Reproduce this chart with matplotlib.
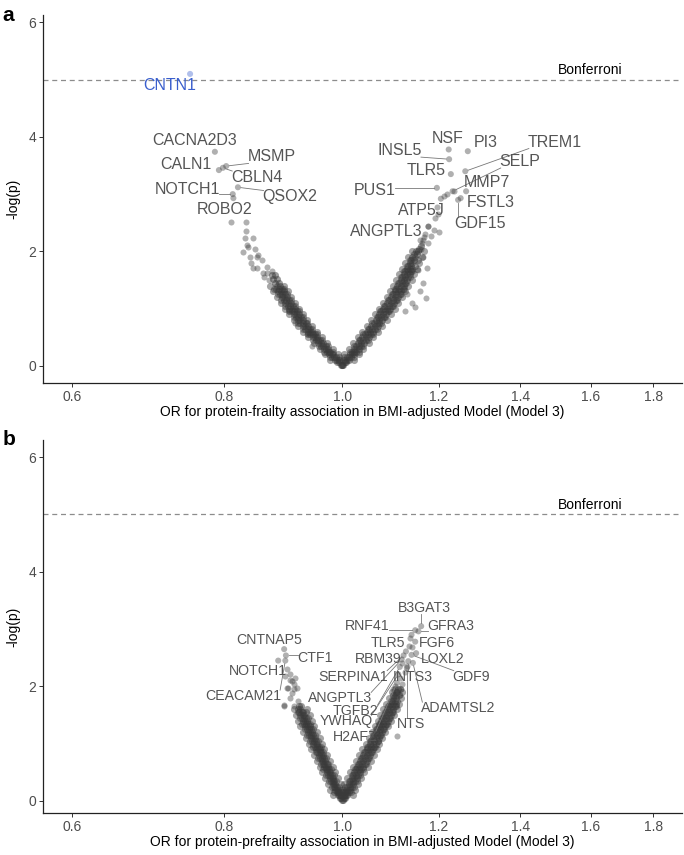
import numpy as np
import matplotlib
matplotlib.use("Agg")
import matplotlib.pyplot as plt

plt.rcParams["font.family"] = ["Liberation Sans", "DejaVu Sans"]

# ---------------- panel a : frailty ----------------
a_band_x = [0.998, 1.0, 0.994, 0.991, 0.990, 0.986, 0.993, 0.985, 0.981, 0.988,
            0.980, 0.976, 0.983, 0.975, 0.971, 0.978, 0.970, 0.966, 0.974, 0.965,
            0.961, 0.969, 0.960, 0.956, 0.964, 0.955, 0.951, 0.959, 0.950, 0.946,
            0.954, 0.946, 0.941, 0.950, 0.941, 0.937, 0.945, 0.937, 0.932, 0.941,
            0.932, 0.928, 0.937, 0.928, 0.924, 0.933, 0.924, 0.920, 0.929, 0.920,
            0.916, 0.925, 0.917, 0.912, 0.921, 0.913, 0.909, 0.918, 0.909, 0.905,
            0.914, 0.906, 0.902, 0.911, 0.902, 0.898, 0.908, 0.899, 0.895, 0.905,
            0.896, 0.892, 0.901, 0.893, 0.889, 0.898, 0.890, 0.886, 0.895, 0.887,
            0.883, 0.892, 0.884, 0.889, 0.881, 0.887, 0.878, 0.884, 0.875, 0.881,
            # right arm
            1.0, 1.002, 1.005, 1.008, 1.009, 1.006, 1.012, 1.013, 1.010, 1.017,
            1.018, 1.014, 1.022, 1.023, 1.018, 1.027, 1.027, 1.022, 1.032, 1.032,
            1.027, 1.037, 1.036, 1.031, 1.042, 1.041, 1.035, 1.046, 1.045, 1.039,
            1.051, 1.050, 1.044, 1.055, 1.054, 1.048, 1.060, 1.058, 1.052, 1.064,
            1.063, 1.056, 1.069, 1.067, 1.061, 1.073, 1.072, 1.065, 1.078, 1.076,
            1.069, 1.082, 1.080, 1.073, 1.087, 1.084, 1.077, 1.091, 1.088, 1.081,
            1.095, 1.092, 1.085, 1.099, 1.096, 1.089, 1.103, 1.100, 1.093, 1.107,
            1.104, 1.097, 1.111, 1.108, 1.101, 1.115, 1.111, 1.104, 1.118, 1.114,
            1.107, 1.121, 1.117, 1.110, 1.124, 1.120, 1.113, 1.127, 1.124, 1.117,
            1.130, 1.127, 1.120, 1.133, 1.130, 1.124, 1.136, 1.133, 1.127, 1.139,
            1.136, 1.130, 1.142, 1.139, 1.133, 1.142, 1.136, 1.145, 1.139, 1.148,
            1.142, 1.151, 1.146, 1.154, 1.150, 1.157, 1.160]
a_band_y = [0.02, 0.02, 0.06, 0.06, 0.10, 0.10, 0.10, 0.15, 0.15, 0.15,
            0.20, 0.20, 0.20, 0.25, 0.25, 0.25, 0.30, 0.30, 0.30, 0.35,
            0.35, 0.35, 0.40, 0.40, 0.40, 0.45, 0.45, 0.45, 0.50, 0.50,
            0.50, 0.55, 0.55, 0.55, 0.60, 0.60, 0.60, 0.65, 0.65, 0.65,
            0.70, 0.70, 0.70, 0.75, 0.75, 0.75, 0.80, 0.80, 0.80, 0.85,
            0.85, 0.85, 0.90, 0.90, 0.90, 0.95, 0.95, 0.95, 1.00, 1.00,
            1.00, 1.05, 1.05, 1.05, 1.10, 1.10, 1.10, 1.15, 1.15, 1.15,
            1.20, 1.20, 1.20, 1.25, 1.25, 1.25, 1.30, 1.30, 1.30, 1.35,
            1.35, 1.35, 1.40, 1.40, 1.45, 1.45, 1.52, 1.52, 1.58, 1.58,
            # right arm
            0.02, 0.02, 0.06, 0.06, 0.10, 0.10, 0.10, 0.15, 0.15, 0.15,
            0.20, 0.20, 0.20, 0.25, 0.25, 0.25, 0.30, 0.30, 0.30, 0.35,
            0.35, 0.35, 0.40, 0.40, 0.40, 0.45, 0.45, 0.45, 0.50, 0.50,
            0.50, 0.55, 0.55, 0.55, 0.60, 0.60, 0.60, 0.65, 0.65, 0.65,
            0.70, 0.70, 0.70, 0.75, 0.75, 0.75, 0.80, 0.80, 0.80, 0.85,
            0.85, 0.85, 0.90, 0.90, 0.90, 0.95, 0.95, 0.95, 1.00, 1.00,
            1.00, 1.05, 1.05, 1.05, 1.10, 1.10, 1.10, 1.15, 1.15, 1.15,
            1.20, 1.20, 1.20, 1.25, 1.25, 1.25, 1.30, 1.30, 1.30, 1.35,
            1.35, 1.35, 1.40, 1.40, 1.40, 1.45, 1.45, 1.45, 1.50, 1.50,
            1.50, 1.55, 1.55, 1.55, 1.60, 1.60, 1.60, 1.65, 1.65, 1.65,
            1.70, 1.70, 1.70, 1.75, 1.75, 1.80, 1.80, 1.85, 1.85, 1.90,
            1.90, 1.95, 1.95, 2.00, 2.00, 2.05, 2.10]
# outer edges of the dense band (low / high OR at each level)
a_left_edge_y = [0.10, 0.15, 0.20, 0.25, 0.30, 0.35, 0.40, 0.45, 0.50, 0.55,
                 0.60, 0.65, 0.70, 0.75, 0.80, 0.85, 0.90, 0.95, 1.00, 1.05,
                 1.10, 1.15, 1.20, 1.25, 1.30, 1.35, 1.40]
a_left_edge_lo = [0.978, 0.977, 0.968, 0.967, 0.958, 0.957, 0.948, 0.947, 0.938, 0.938,
                  0.929, 0.929, 0.920, 0.920, 0.912, 0.912, 0.905, 0.905, 0.897, 0.898,
                  0.890, 0.891, 0.884, 0.885, 0.878, 0.879, 0.872]
a_left_edge_hi = [1.002, 0.993, 0.992, 0.983, 0.982, 0.973, 0.972, 0.963, 0.962, 0.954,
                  0.953, 0.945, 0.944, 0.936, 0.936, 0.928, 0.929, 0.921, 0.921, 0.914,
                  0.914, 0.907, 0.908, 0.901, 0.902, 0.895, 0.896]
a_right_edge_y = [0.10, 0.15, 0.20, 0.25, 0.30, 0.35, 0.40, 0.45, 0.50, 0.55,
                  0.60, 0.65, 0.70, 0.75, 0.80, 0.85, 0.90, 0.95, 1.00, 1.05,
                  1.10, 1.15, 1.20, 1.25, 1.30, 1.35, 1.40, 1.45, 1.50, 1.55,
                  1.60, 1.65, 1.70, 1.75, 1.80, 1.85, 1.90, 2.00]
a_right_edge_lo = [0.996, 1.004, 1.004, 1.014, 1.013, 1.023, 1.021, 1.032, 1.030, 1.041,
                   1.039, 1.049, 1.047, 1.058, 1.056, 1.067, 1.064, 1.075, 1.072, 1.083,
                   1.080, 1.091, 1.088, 1.099, 1.095, 1.105, 1.101, 1.111, 1.108, 1.118,
                   1.114, 1.124, 1.120, 1.130, 1.127, 1.136, 1.133, 1.140]
a_right_edge_hi = [1.023, 1.022, 1.032, 1.032, 1.041, 1.041, 1.051, 1.050, 1.060, 1.059,
                   1.069, 1.067, 1.079, 1.076, 1.088, 1.085, 1.096, 1.093, 1.104, 1.101,
                   1.112, 1.109, 1.120, 1.117, 1.127, 1.123, 1.133, 1.129, 1.140, 1.136,
                   1.146, 1.142, 1.152, 1.148, 1.157, 1.154, 1.163, 1.168]
a_sparse_x = [0.867, 0.875, 0.861, 0.851, 0.859, 0.842, 0.851, 0.840, 0.848, 0.829,
              0.835, 0.845, 0.832, 0.833, 0.833, 0.810, 0.853, 0.845, 0.867, 0.837,
              0.862, 0.870, 0.935, 0.915, 0.905, 0.945,
              1.166, 1.171, 1.158, 1.155, 1.173, 1.164, 1.148, 1.165, 1.177, 1.183,
              1.190, 1.200, 1.192, 1.199, 1.196, 1.212, 1.220, 1.236, 1.170, 1.175,
              1.160, 1.130, 1.140, 1.125, 1.163, 1.158, 1.168]
a_sparse_y = [1.73, 1.65, 1.62, 1.71, 1.85, 1.79, 1.91, 1.91, 2.05, 1.99,
              2.11, 2.23, 2.23, 2.36, 2.51, 2.51, 1.94, 1.71, 1.62, 2.08,
              1.55, 1.50, 0.55, 0.75, 0.95, 0.35,
              1.44, 1.18, 1.30, 1.68, 1.71, 1.91, 1.03, 2.20, 2.14, 2.26,
              2.37, 2.34, 2.58, 2.66, 2.78, 2.97, 3.01, 3.05, 2.30, 2.45,
              2.05, 1.25, 1.10, 0.95, 2.15, 2.20, 2.25]
a_genes = ["CNTN1", "CACNA2D3", "MSMP", "CALN1", "CBLN4", "QSOX2", "NOTCH1", "ROBO2",
           "NSF", "PI3", "INSL5", "TREM1", "TLR5", "SELP", "MMP7", "PUS1", "FSTL3",
           "GDF15", "ATP5J", "ANGPTL3"]
a_gene_x = [0.750, 0.786, 0.803, 0.792, 0.798, 0.821, 0.813, 0.814,
            1.223, 1.268, 1.224, 1.262, 1.228, 1.232, 1.264, 1.196, 1.251,
            1.245, 1.205, 1.177]
a_gene_y = [5.10, 3.74, 3.49, 3.42, 3.46, 3.12, 3.00, 2.93,
            3.78, 3.75, 3.61, 3.40, 3.35, 3.05, 3.05, 3.11, 2.93,
            2.90, 2.92, 2.43]
a_text_x = [0.722, 0.756, 0.875, 0.744, 0.851, 0.906, 0.746, 0.800,
            1.221, 1.312, 1.115, 1.495, 1.172, 1.400, 1.314, 1.064, 1.324,
            1.298, 1.162, 1.086]
a_text_y = [4.89, 3.93, 3.65, 3.52, 3.29, 2.95, 3.08, 2.74,
            3.97, 3.91, 3.76, 3.91, 3.41, 3.57, 3.21, 3.07, 2.85,
            2.49, 2.71, 2.34]

# ---------------- panel b : prefrailty ----------------
b_band_x = [0.999, 0.997, 0.995, 0.995, 0.993, 0.997, 0.992, 0.990, 0.994, 0.990,
            0.987, 0.992, 0.987, 0.985, 0.990, 0.985, 0.982, 0.987, 0.982, 0.979,
            0.985, 0.980, 0.977, 0.983, 0.977, 0.974, 0.980, 0.975, 0.972, 0.978,
            0.972, 0.969, 0.976, 0.970, 0.967, 0.973, 0.967, 0.964, 0.971, 0.965,
            0.962, 0.968, 0.963, 0.959, 0.966, 0.960, 0.957, 0.964, 0.958, 0.954,
            0.961, 0.955, 0.952, 0.959, 0.953, 0.949, 0.957, 0.951, 0.947, 0.954,
            0.948, 0.944, 0.952, 0.946, 0.942, 0.950, 0.943, 0.939, 0.947, 0.941,
            0.937, 0.945, 0.939, 0.935, 0.943, 0.936, 0.932, 0.940, 0.934, 0.930,
            0.938, 0.932, 0.928, 0.936, 0.930, 0.926, 0.933, 0.928, 0.924, 0.931,
            0.926, 0.922, 0.929, 0.924, 0.920, 0.921, 0.925,
            # right arm
            1.001, 1.003, 1.005, 1.006, 1.003, 1.009, 1.009, 1.005, 1.012, 1.011,
            1.007, 1.015, 1.014, 1.010, 1.018, 1.017, 1.012, 1.021, 1.020, 1.015,
            1.025, 1.023, 1.018, 1.028, 1.026, 1.020, 1.031, 1.029, 1.023, 1.034,
            1.032, 1.026, 1.037, 1.035, 1.029, 1.041, 1.038, 1.032, 1.044, 1.041,
            1.035, 1.047, 1.044, 1.038, 1.050, 1.047, 1.041, 1.053, 1.050, 1.044,
            1.056, 1.053, 1.047, 1.059, 1.056, 1.050, 1.062, 1.059, 1.053, 1.066,
            1.062, 1.056, 1.069, 1.065, 1.059, 1.072, 1.068, 1.062, 1.075, 1.071,
            1.065, 1.078, 1.074, 1.068, 1.081, 1.077, 1.071, 1.084, 1.080, 1.074,
            1.087, 1.083, 1.077, 1.090, 1.086, 1.080, 1.093, 1.089, 1.083, 1.096,
            1.092, 1.086, 1.099, 1.095, 1.089, 1.101, 1.098, 1.092, 1.104, 1.101,
            1.095, 1.106, 1.104, 1.098, 1.106, 1.101, 1.108, 1.103, 1.110, 1.106,
            1.112]
b_band_y = [0.02, 0.06, 0.06, 0.10, 0.10, 0.10, 0.15, 0.15, 0.15, 0.20,
            0.20, 0.20, 0.25, 0.25, 0.25, 0.30, 0.30, 0.30, 0.35, 0.35,
            0.35, 0.40, 0.40, 0.40, 0.45, 0.45, 0.45, 0.50, 0.50, 0.50,
            0.55, 0.55, 0.55, 0.60, 0.60, 0.60, 0.65, 0.65, 0.65, 0.70,
            0.70, 0.70, 0.75, 0.75, 0.75, 0.80, 0.80, 0.80, 0.85, 0.85,
            0.85, 0.90, 0.90, 0.90, 0.95, 0.95, 0.95, 1.00, 1.00, 1.00,
            1.05, 1.05, 1.05, 1.10, 1.10, 1.10, 1.15, 1.15, 1.15, 1.20,
            1.20, 1.20, 1.25, 1.25, 1.25, 1.30, 1.30, 1.30, 1.35, 1.35,
            1.35, 1.40, 1.40, 1.40, 1.45, 1.45, 1.45, 1.50, 1.50, 1.50,
            1.55, 1.55, 1.55, 1.60, 1.60, 1.66, 1.66,
            # right arm
            0.02, 0.06, 0.06, 0.10, 0.10, 0.10, 0.15, 0.15, 0.15, 0.20,
            0.20, 0.20, 0.25, 0.25, 0.25, 0.30, 0.30, 0.30, 0.35, 0.35,
            0.35, 0.40, 0.40, 0.40, 0.45, 0.45, 0.45, 0.50, 0.50, 0.50,
            0.55, 0.55, 0.55, 0.60, 0.60, 0.60, 0.65, 0.65, 0.65, 0.70,
            0.70, 0.70, 0.75, 0.75, 0.75, 0.80, 0.80, 0.80, 0.85, 0.85,
            0.85, 0.90, 0.90, 0.90, 0.95, 0.95, 0.95, 1.00, 1.00, 1.00,
            1.05, 1.05, 1.05, 1.10, 1.10, 1.10, 1.15, 1.15, 1.15, 1.20,
            1.20, 1.20, 1.25, 1.25, 1.25, 1.30, 1.30, 1.30, 1.35, 1.35,
            1.35, 1.40, 1.40, 1.40, 1.45, 1.45, 1.45, 1.50, 1.50, 1.50,
            1.55, 1.55, 1.55, 1.60, 1.60, 1.60, 1.65, 1.65, 1.65, 1.70,
            1.70, 1.70, 1.75, 1.75, 1.80, 1.80, 1.85, 1.85, 1.90, 1.90,
            1.95]
b_left_edge_y = [0.10, 0.15, 0.20, 0.25, 0.30, 0.35, 0.40, 0.45, 0.50, 0.55,
                 0.60, 0.65, 0.70, 0.75, 0.80, 0.85, 0.90, 0.95, 1.00, 1.05,
                 1.10, 1.15, 1.20, 1.25, 1.30, 1.35, 1.40, 1.45, 1.50, 1.55, 1.60]
b_left_edge_lo = [0.983, 0.985, 0.978, 0.980, 0.973, 0.975, 0.968, 0.970, 0.963, 0.965,
                  0.958, 0.960, 0.953, 0.956, 0.948, 0.951, 0.943, 0.946, 0.939, 0.941,
                  0.934, 0.936, 0.929, 0.932, 0.924, 0.927, 0.920, 0.923, 0.916, 0.919,
                  0.912]
b_left_edge_hi = [1.007, 0.999, 1.002, 0.994, 0.997, 0.989, 0.992, 0.984, 0.987, 0.979,
                  0.982, 0.974, 0.977, 0.970, 0.972, 0.965, 0.967, 0.960, 0.963, 0.955,
                  0.958, 0.950, 0.953, 0.946, 0.948, 0.941, 0.944, 0.937, 0.940, 0.933,
                  0.936]
b_right_edge_y = [0.10, 0.15, 0.20, 0.25, 0.30, 0.35, 0.40, 0.45, 0.50, 0.55,
                  0.60, 0.65, 0.70, 0.75, 0.80, 0.85, 0.90, 0.95, 1.00, 1.05,
                  1.10, 1.15, 1.20, 1.25, 1.30, 1.35, 1.40, 1.45, 1.50, 1.55,
                  1.60, 1.65, 1.70, 1.75, 1.80, 1.85, 1.90, 1.95]
b_right_edge_lo = [0.992, 1.001, 0.997, 1.006, 1.003, 1.012, 1.009, 1.018, 1.015, 1.024,
                   1.021, 1.030, 1.027, 1.036, 1.033, 1.042, 1.039, 1.048, 1.045, 1.054,
                   1.051, 1.060, 1.057, 1.066, 1.063, 1.072, 1.069, 1.078, 1.075, 1.084,
                   1.081, 1.090, 1.087, 1.096, 1.093, 1.100, 1.098, 1.104]
b_right_edge_hi = [1.020, 1.017, 1.025, 1.022, 1.031, 1.028, 1.037, 1.034, 1.043, 1.040,
                   1.049, 1.046, 1.055, 1.052, 1.061, 1.058, 1.067, 1.064, 1.073, 1.070,
                   1.079, 1.076, 1.085, 1.082, 1.091, 1.088, 1.097, 1.094, 1.103, 1.100,
                   1.109, 1.106, 1.113, 1.110, 1.117, 1.114, 1.120, 1.116]
b_sparse_x = [0.912, 0.895, 0.906, 0.912, 0.900, 0.909, 0.906, 0.898, 0.900, 0.906,
              0.912, 0.918, 0.903, 0.915, 0.909, 0.896, 0.920,
              1.110, 1.115, 1.118, 1.120, 1.116, 1.125, 1.130, 1.137, 1.135, 1.142,
              1.120, 1.100, 1.105]
b_sparse_y = [1.65, 1.65, 1.80, 1.95, 1.98, 2.09, 2.21, 2.18, 2.30, 2.12,
              2.04, 1.97, 1.97, 2.14, 1.89, 1.68, 1.74,
              1.13, 1.85, 1.95, 2.05, 2.15, 2.25, 2.35, 2.84, 2.70, 2.68,
              2.40, 1.95, 2.00]
b_genes = ["CNTNAP5", "CTF1", "NOTCH1", "CEACAM21",
           "B3GAT3", "GFRA3", "RNF41", "TLR5", "FGF6", "RBM39", "LOXL2", "GDF9",
           "SERPINA1", "INTS3", "ADAMTSL2", "NTS", "ANGPTL3", "TGFB2", "YWHAQ", "H2AFZ"]
b_gene_x = [0.896, 0.899, 0.886, 0.898,
            1.161, 1.155, 1.148, 1.140, 1.148, 1.128, 1.150, 1.140,
            1.123, 1.133, 1.143, 1.130, 1.119, 1.115, 1.112, 1.109]
b_gene_y = [2.65, 2.54, 2.45, 2.45,
            3.05, 2.96, 2.98, 2.90, 2.78, 2.61, 2.58, 2.55,
            2.54, 2.44, 2.41, 2.32, 2.47, 2.34, 2.21, 2.06]
b_text_x = [0.871, 0.950, 0.852, 0.829,
            1.167, 1.228, 1.049, 1.091, 1.196, 1.071, 1.209, 1.277,
            1.021, 1.143, 1.246, 1.139, 0.996, 1.026, 1.007, 1.024]
b_text_y = [2.81, 2.50, 2.27, 1.83,
            3.37, 3.05, 3.05, 2.76, 2.76, 2.47, 2.47, 2.17,
            2.17, 2.17, 1.62, 1.35, 1.79, 1.57, 1.39, 1.12]

bonferroni = 5
x_ticks = [0.6, 0.8, 1.0, 1.2, 1.4, 1.6, 1.8]
y_ticks = [0, 2, 4, 6]

panels = [
    dict(letter="a", rect=[0.063, 0.552, 0.934, 0.4305], ylim=(-0.30, 6.13),
         bx=a_band_x, by=a_band_y, sx=a_sparse_x, sy=a_sparse_y,
         edges=[(a_left_edge_y, a_left_edge_lo, a_left_edge_hi),
                (a_right_edge_y, a_right_edge_lo, a_right_edge_hi)],
         genes=a_genes, gx=a_gene_x, gy=a_gene_y, tx=a_text_x, ty=a_text_y, fs=11.5,
         xlabel="OR for protein-frailty association in BMI-adjusted Model (Model 3)"),
    dict(letter="b", rect=[0.063, 0.0491, 0.934, 0.4363], ylim=(-0.21, 6.30),
         bx=b_band_x, by=b_band_y, sx=b_sparse_x, sy=b_sparse_y,
         edges=[(b_left_edge_y, b_left_edge_lo, b_left_edge_hi),
                (b_right_edge_y, b_right_edge_lo, b_right_edge_hi)],
         genes=b_genes, gx=b_gene_x, gy=b_gene_y, tx=b_text_x, ty=b_text_y, fs=10.2,
         xlabel="OR for protein-prefrailty association in BMI-adjusted Model (Model 3)"),
]

fig = plt.figure(figsize=(6.84, 8.55), dpi=100)
pt_col = "#3a3a3a"
txt_col = "#555555"
blue = "#3a5fcd"
msize = 19
band_size = 26

axes_info = []
for p in panels:
    ax = fig.add_axes(p["rect"])
    ax.set_xscale("log")
    ax.set_xlim(0.568, 1.901)
    ax.set_ylim(*p["ylim"])
    # dense core of the volcano
    ax.scatter(p["bx"], p["by"], s=band_size, c=pt_col, alpha=0.5, linewidths=0)
    for ey, elo, ehi in p["edges"]:
        ax.scatter(elo, ey, s=band_size, c=pt_col, alpha=0.45, linewidths=0)
        ax.scatter(ehi, ey, s=band_size, c=pt_col, alpha=0.45, linewidths=0)
    ax.scatter(p["sx"], p["sy"], s=msize, c=pt_col, alpha=0.4, linewidths=0)
    cols = [blue if g == "CNTN1" else pt_col for g in p["genes"]]
    ax.scatter(p["gx"], p["gy"], s=msize, c=cols, alpha=0.4, linewidths=0)
    ax.axhline(bonferroni, color="#8c8c8c", lw=0.9, ls=(0, (4, 3)))
    ax.text(1.598, bonferroni + 0.05, "Bonferroni", ha="center", va="bottom",
            fontsize=10, color="black")
    texts = []
    for g, tx, ty in zip(p["genes"], p["tx"], p["ty"]):
        c = blue if g == "CNTN1" else txt_col
        texts.append(ax.text(tx, ty, g, ha="center", va="center",
                             fontsize=p["fs"], color=c))
    ax.set_xticks(x_ticks)
    ax.set_xticklabels(["0.6", "0.8", "1.0", "1.2", "1.4", "1.6", "1.8"])
    ax.xaxis.set_minor_locator(matplotlib.ticker.NullLocator())
    ax.set_yticks(y_ticks)
    ax.tick_params(colors="#333333", labelcolor="#4d4d4d", labelsize=10,
                   length=3, width=0.7, pad=2)
    for s in ["top", "right"]:
        ax.spines[s].set_visible(False)
    for s in ["left", "bottom"]:
        ax.spines[s].set_linewidth(0.9)
        ax.spines[s].set_color("#222222")
    ax.set_xlabel(p["xlabel"], fontsize=10, labelpad=1)
    ax.set_ylabel("-log(p)", fontsize=10, labelpad=6)
    ax.patch.set_alpha(0)
    axes_info.append((ax, p, texts))

# repel-style segments from each point to the nearest edge of its label
fig.canvas.draw()
renderer = fig.canvas.get_renderer()
for ax, p, texts in axes_info:
    inv = ax.transData.inverted()
    for t, gx, gy, g in zip(texts, p["gx"], p["gy"], p["genes"]):
        bb = t.get_window_extent(renderer)
        px, py = ax.transData.transform((gx, gy))
        cx = min(max(px, bb.x0 + 1), bb.x1 - 1)
        cy = min(max(py, bb.y0 + 1), bb.y1 - 1)
        d = np.hypot(cx - px, cy - py)
        if d < 9:
            continue
        ux, uy = (cx - px) / d, (cy - py) / d
        sx, sy = px + ux * 3, py + uy * 3
        (dx0, dy0), (dx1, dy1) = inv.transform([(sx, sy), (cx, cy)])
        c = blue if g == "CNTN1" else "#777777"
        ax.plot([dx0, dx1], [dy0, dy1], color=c, lw=0.6, zorder=1)

fig.text(0.004, 0.993, "a", fontsize=15, fontweight="bold", va="top", ha="left")
fig.text(0.004, 0.497, "b", fontsize=15, fontweight="bold", va="top", ha="left")

fig.savefig("out.png", dpi=100)
